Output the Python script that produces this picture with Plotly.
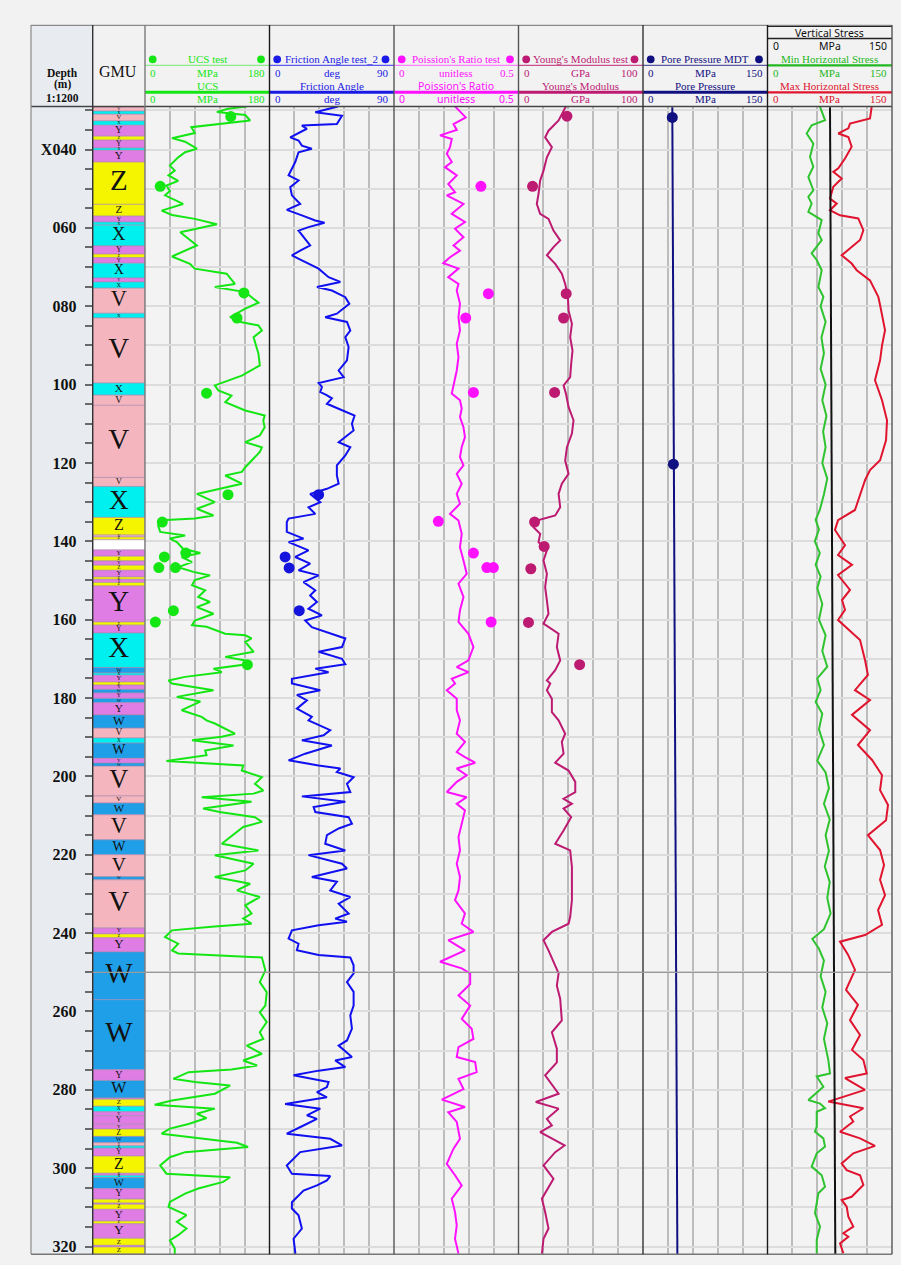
import plotly.graph_objects as go

# ---------------------------------------------------------------- data
# Geological unit column (top, base in m, unit code)
gmu_top = [29.15, 30.2, 31.0, 32.7, 33.8, 36.6, 37.6, 39.6, 40.2, 43.2, 54.0, 57.0, 58.5, 59.3, 64.6,
           66.7, 67.6, 69.0, 72.8, 73.8, 75.4, 81.8, 83.0, 99.6, 102.7, 105.3, 123.7, 126.0, 133.9, 138.4,
           138.9, 139.6, 142.2, 143.8, 145.0, 146.1, 147.4, 149.1, 149.7, 150.5, 151.4, 160.6, 161.4, 163.4, 172.2,
           173.6, 174.2, 175.9, 176.7, 177.8, 178.7, 180.1, 181.2, 184.3, 187.7, 190.2, 191.5, 195.4, 196.6, 197.4,
           205.0, 206.8, 209.8, 216.2, 220.0, 225.6, 226.4, 238.7, 240.2, 241.2, 244.8, 257.0, 274.9, 277.6, 282.1,
           282.4, 284.2, 285.6, 286.6, 288.8, 290.0, 291.9, 293.5, 294.3, 294.9, 296.9, 301.3, 301.8, 302.4, 305.2,
           307.9, 308.9, 309.2, 310.5, 313.5, 314.2, 317.9, 319.7, 320.1]
gmu_base = gmu_top[1:] + [321.9]
gmu_unit = ["V", "X", "V", "X", "Y", "Z", "Y", "X", "Y", "Z", "Z", "Y", "X", "X", "Y",
            "Z", "Y", "X", "Y", "X", "V", "X", "V", "X", "V", "V", "V", "X", "Z", "V",
            "Z", "", "Y", "Z", "Y", "Z", "Y", "Z", "Y", "Z", "Y", "Z", "Y", "X", "W",
            "X", "Y", "Z", "Y", "W", "Y", "W", "Y", "W", "V", "X", "W", "Y", "W", "V",
            "V", "W", "V", "W", "V", "W", "V", "Y", "Z", "Y", "W", "W", "Y", "W", "Y",
            "Z", "X", "Y", "Y", "Y", "Z", "W", "V", "X", "Y", "Z", "Y", "X", "W", "Y",
            "Z", "Y", "Z", "Y", "Z", "Y", "Z", "Y", "Z"]

# UCS log (MPa)
ucs_depth = [29.0, 29.6, 30.4, 31.2, 32.6, 34.3, 35.8, 37.1, 38.0, 39.8, 40.7, 42.0, 44.1, 45.4, 46.6,
             48.0, 49.2, 50.6, 51.7, 53.9, 55.6, 56.7, 57.7, 59.1, 61.1, 64.5, 67.3, 69.2, 70.4, 71.7,
             74.3, 75.1, 76.4, 79.1, 80.6, 82.8, 84.1, 84.9, 86.2, 87.9, 92.1, 95.1, 97.7, 100.2, 101.5,
             102.8, 104.5, 106.6, 107.9, 109.2, 110.9, 113.0, 114.7, 116.0, 117.2, 119.4, 121.1, 122.3, 123.2, 125.3,
             127.0, 127.9, 130.0, 131.7, 133.4, 134.2, 134.6, 136.0, 137.6, 138.5, 139.3, 140.2, 141.9, 143.0, 144.0,
             145.3, 146.6, 147.8, 148.7, 149.9, 151.2, 152.5, 154.2, 155.5, 156.8, 158.5, 160.2, 161.4, 161.8, 163.6,
             164.0, 164.8, 165.7, 168.2, 169.5, 170.4, 171.4, 172.5, 173.4, 174.6, 175.5, 176.3, 178.0, 179.7, 180.9,
             183.1, 184.8, 185.7, 186.5, 189.1, 189.9, 190.8, 192.1, 193.4, 194.6, 196.1, 197.2, 198.5, 200.2, 201.9,
             203.6, 204.4, 205.3, 206.5, 208.2, 209.1, 210.4, 211.6, 212.9, 215.5, 217.2, 218.9, 220.1, 222.3, 224.0,
             225.7, 227.4, 229.1, 230.8, 232.9, 235.0, 236.3, 237.6, 238.4, 239.3, 241.0, 242.7, 244.4, 245.2, 246.2,
             247.3, 249.5, 252.5, 255.1, 258.5, 260.2, 262.7, 265.3, 267.0, 268.7, 270.8, 272.5, 273.8, 274.8, 275.5,
             277.2, 278.0, 278.9, 281.0, 282.7, 283.8, 284.8, 286.1, 287.2, 288.7, 289.9, 291.2, 292.5, 293.5, 294.6,
             295.9, 297.2, 299.3, 301.4, 302.3, 303.5, 305.2, 306.5, 308.6, 309.9, 312.0, 313.7, 315.4, 317.1, 318.4,
             320.5, 322.0]
ucs_mpa = [147, 120, 104, 145, 152, 67, 72, 39, 58, 75, 58, 48, 36, 43, 34,
           48, 31, 36, 29, 55, 24, 39, 72, 104, 51, 75, 39, 65, 72, 118,
           130, 101, 145, 164, 145, 123, 140, 164, 169, 157, 164, 166, 140, 101, 106,
           125, 116, 145, 173, 171, 173, 166, 145, 169, 166, 154, 145, 140, 116, 140,
           96, 75, 101, 75, 99, 72, 24, 19, 22, 58, 36, 46, 55, 80, 53,
           68, 48, 70, 94, 72, 68, 87, 77, 94, 75, 99, 72, 68, 89, 116,
           145, 154, 145, 157, 116, 145, 147, 99, 111, 58, 34, 39, 99, 46, 80,
           53, 82, 89, 101, 130, 111, 68, 128, 87, 89, 31, 142, 140, 169, 159,
           171, 157, 82, 154, 84, 108, 159, 169, 142, 123, 111, 164, 101, 157, 145,
           101, 152, 133, 166, 145, 154, 142, 154, 96, 39, 29, 48, 39, 48, 169,
           171, 174, 166, 176, 174, 166, 176, 166, 171, 147, 169, 142, 162, 125, 63,
           41, 72, 123, 101, 39, 14, 101, 75, 89, 63, 36, 24, 87, 133, 149,
           58, 36, 22, 31, 123, 113, 77, 58, 36, 34, 60, 46, 60, 48, 36,
           43, 43]
ucs_test_depth = [31.6, 49.4, 76.6, 83.0, 102.2, 128.1, 135.1, 143.0, 144.0, 146.7, 146.7, 157.7, 160.6, 171.5]
ucs_test_mpa = [124, 22, 143, 133, 89, 120, 25, 59, 28, 20, 44, 41, 15, 148]

# Friction angle log (deg)
fa_depth = [29.0, 30.5, 31.4, 33.5, 33.9, 34.7, 36.9, 37.7, 39.0, 39.8, 40.7, 43.2, 46.6, 47.9, 49.6,
            51.7, 53.9, 55.4, 56.8, 58.1, 58.7, 59.8, 60.7, 62.4, 64.5, 65.8, 67.0, 68.3, 70.4, 72.6,
            73.8, 75.1, 76.0, 77.7, 79.4, 81.9, 82.8, 84.0, 86.2, 87.9, 90.4, 93.8, 96.4, 98.1, 99.6,
            100.6, 101.9, 102.6, 103.5, 104.9, 107.0, 107.9, 110.0, 111.7, 114.7, 116.0, 118.1, 120.6, 123.2, 125.3,
            126.6, 127.9, 130.0, 131.3, 133.0, 134.2, 135.1, 137.6, 139.3, 140.2, 142.3, 144.0, 145.7, 147.4, 148.7,
            150.4, 152.5, 153.8, 155.5, 157.2, 158.9, 160.2, 161.9, 163.6, 164.8, 167.0, 168.2, 170.0, 171.4, 172.5,
            173.4, 175.1, 176.3, 178.0, 179.2, 180.6, 182.7, 184.8, 185.7, 188.2, 189.5, 190.8, 192.1, 194.2, 195.9,
            197.2, 198.0, 198.9, 200.2, 201.9, 204.0, 205.1, 206.5, 207.8, 209.1, 210.4, 212.1, 213.3, 215.0, 217.2,
            218.9, 220.1, 222.3, 223.5, 225.7, 226.9, 229.1, 230.8, 232.5, 235.0, 236.3, 237.1, 238.0, 239.3, 241.4,
            242.7, 244.4, 245.6, 246.2, 248.2, 250.3, 252.5, 255.0, 258.5, 261.0, 264.4, 267.4, 268.7, 271.6, 272.5,
            274.2, 275.1, 276.3, 278.0, 279.3, 280.6, 281.9, 283.6, 284.8, 286.5, 287.4, 289.1, 291.2, 292.5, 294.2,
            295.9, 299.3, 301.4, 302.0, 303.1, 304.4, 305.7, 308.7, 310.3, 312.0, 315.4, 318.0, 321.4, 322.0]
fa_deg = [49.5, 33.1, 52.4, 48.7, 23.4, 27.0, 15.0, 21.0, 23.4, 30.6, 21.0, 18.6, 13.8, 21.0, 15.0,
          16.2, 22.2, 12.5, 23.4, 33.1, 39.8, 28.2, 21.0, 24.6, 29.4, 22.2, 16.2, 23.4, 35.5, 42.7,
          51.2, 34.3, 45.1, 54.8, 57.7, 48.7, 40.3, 56.0, 58.4, 54.8, 57.2, 56.0, 50.0, 53.6, 35.5,
          37.9, 36.7, 41.0, 45.1, 41.5, 54.8, 61.5, 59.6, 60.8, 50.0, 58.4, 54.8, 48.7, 48.7, 50.0,
          41.5, 29.4, 36.7, 28.2, 33.1, 13.8, 12.5, 12.5, 24.6, 13.8, 28.2, 18.6, 29.4, 21.0, 35.5,
          24.6, 33.1, 29.4, 34.3, 28.2, 37.9, 25.8, 30.6, 45.1, 54.8, 52.4, 35.5, 52.4, 54.8, 33.1,
          42.7, 16.2, 16.2, 36.7, 19.8, 27.0, 19.8, 30.6, 28.2, 43.9, 39.1, 23.4, 45.1, 25.8, 13.8,
          35.5, 51.2, 48.7, 60.8, 56.0, 58.4, 23.4, 54.8, 31.9, 33.1, 57.2, 59.6, 50.0, 41.5, 40.3,
          54.8, 28.2, 52.4, 56.0, 30.6, 48.7, 43.9, 58.4, 50.0, 57.2, 47.5, 56.0, 35.5, 16.2, 13.8,
          21.0, 19.8, 35.5, 58.4, 60.8, 60.8, 56.0, 60.8, 60.8, 58.4, 59.6, 56.0, 50.0, 59.6, 47.5,
          54.8, 35.5, 17.4, 42.7, 41.5, 34.3, 41.5, 11.3, 36.7, 27.0, 34.3, 24.6, 12.5, 43.9, 52.4,
          22.2, 12.5, 16.2, 43.9, 41.5, 34.3, 24.6, 16.2, 16.2, 21.0, 23.4, 17.4, 18.6, 18.6]
fa_test_depth = [128.1, 144.0, 146.8, 157.7]
fa_test_deg = [35.5, 11.3, 14.2, 21.5]

# Poisson's ratio log (unitless)
pr_depth = [29.0, 31.8, 33.5, 35.0, 36.4, 37.3, 39.4, 41.1, 43.2, 44.5, 46.6, 48.8, 50.9, 51.7, 53.9,
            56.4, 58.5, 60.2, 62.4, 64.5, 65.8, 67.5, 69.0, 70.4, 72.6, 74.3, 76.0, 79.4, 82.8, 86.2,
            89.6, 93.0, 96.4, 99.8, 102.3, 104.0, 106.1, 108.3, 110.9, 113.4, 115.9, 118.5, 120.6, 122.8, 125.3,
            127.9, 130.4, 133.0, 134.7, 138.1, 141.5, 144.9, 148.3, 150.8, 154.2, 157.6, 160.6, 163.6, 167.0, 170.4,
            172.1, 173.4, 175.1, 176.3, 178.0, 180.2, 183.1, 185.7, 189.1, 191.2, 193.8, 195.1, 196.5, 198.0, 199.7,
            201.4, 204.0, 205.3, 207.0, 208.7, 212.1, 215.5, 218.9, 222.3, 225.7, 229.1, 231.6, 235.0, 237.6, 239.7,
            241.8, 244.4, 247.3, 249.0, 250.3, 253.0, 255.9, 258.5, 261.9, 264.4, 267.0, 269.1, 271.6, 272.9, 275.5,
            277.2, 279.8, 282.5, 284.4, 285.7, 288.2, 292.5, 295.0, 298.9, 301.8, 304.4, 307.8, 311.2, 314.6, 318.0,
            321.8]
pr_val = [0.245, 0.288, 0.239, 0.252, 0.185, 0.232, 0.225, 0.212, 0.232, 0.205, 0.252, 0.218, 0.245, 0.212, 0.279,
          0.232, 0.285, 0.245, 0.279, 0.239, 0.265, 0.225, 0.198, 0.259, 0.218, 0.259, 0.252, 0.265, 0.259, 0.265,
          0.252, 0.259, 0.252, 0.239, 0.232, 0.265, 0.272, 0.265, 0.279, 0.285, 0.272, 0.265, 0.279, 0.252, 0.272,
          0.252, 0.265, 0.225, 0.259, 0.272, 0.265, 0.279, 0.292, 0.259, 0.279, 0.265, 0.259, 0.299, 0.319, 0.299,
          0.252, 0.299, 0.232, 0.245, 0.212, 0.252, 0.252, 0.265, 0.252, 0.285, 0.252, 0.285, 0.326, 0.252, 0.292,
          0.252, 0.212, 0.292, 0.252, 0.285, 0.272, 0.259, 0.265, 0.252, 0.265, 0.259, 0.245, 0.285, 0.272, 0.319,
          0.218, 0.285, 0.185, 0.272, 0.306, 0.306, 0.259, 0.306, 0.272, 0.312, 0.319, 0.259, 0.252, 0.326, 0.332,
          0.259, 0.279, 0.192, 0.285, 0.218, 0.252, 0.265, 0.239, 0.212, 0.245, 0.272, 0.232, 0.245, 0.252, 0.245,
          0.259]
pr_test_depth = [49.4, 76.8, 83.0, 102.0, 134.9, 143.0, 146.7, 146.7, 160.6]
pr_test_val = [0.349, 0.379, 0.288, 0.319, 0.178, 0.319, 0.373, 0.399, 0.390]

# Young's modulus log (GPa)
ym_depth = [29.0, 32.6, 35.2, 36.9, 39.4, 42.0, 45.4, 47.9, 51.3, 53.9, 56.4, 57.7, 60.7, 63.2, 64.9,
            67.0, 69.2, 71.7, 74.3, 77.7, 81.1, 84.5, 87.9, 91.3, 94.7, 98.1, 100.2, 102.3, 105.7, 109.1,
            112.5, 116.0, 119.4, 122.8, 125.3, 127.9, 131.3, 133.4, 134.7, 136.4, 138.1, 140.2, 142.3, 144.9, 148.3,
            151.7, 155.1, 158.5, 161.0, 163.6, 167.0, 170.4, 172.9, 175.5, 176.3, 178.0, 180.2, 183.6, 185.7, 189.1,
            191.2, 194.2, 196.5, 198.5, 201.4, 204.0, 205.7, 207.0, 208.2, 210.4, 213.8, 217.2, 218.9, 223.1, 227.4,
            231.6, 235.9, 237.6, 239.7, 241.8, 244.4, 247.3, 250.3, 253.4, 256.8, 262.3, 265.3, 269.5, 273.0, 276.3,
            281.0, 283.1, 284.8, 287.4, 289.1, 290.8, 294.2, 295.9, 299.3, 302.7, 307.8, 311.2, 315.4, 318.0, 321.8]
ym_gpa = [38.1, 32.2, 24.1, 21.4, 26.8, 22.8, 20.1, 17.4, 16.1, 14.7, 17.4, 24.1, 28.1, 33.5, 28.1,
          22.8, 29.5, 34.8, 37.5, 39.7, 40.2, 42.9, 41.5, 43.4, 42.3, 41.5, 36.2, 38.1, 40.2, 44.2,
          42.9, 38.9, 37.5, 40.2, 34.8, 32.2, 33.5, 29.5, 14.7, 12.1, 17.4, 16.1, 22.8, 20.1, 22.8,
          21.4, 22.8, 24.1, 20.1, 32.2, 30.8, 33.5, 29.5, 22.8, 25.5, 22.8, 26.8, 26.8, 32.2, 37.5,
          34.8, 36.2, 29.5, 40.2, 45.6, 45.6, 36.2, 42.9, 36.2, 42.3, 36.2, 29.5, 41.5, 42.9, 42.9,
          42.9, 41.5, 40.2, 26.8, 20.1, 24.1, 28.1, 32.2, 30.8, 33.5, 34.8, 26.8, 30.8, 30.8, 21.4,
          32.2, 13.9, 32.2, 22.8, 26.8, 17.4, 37.0, 29.5, 20.1, 28.1, 18.8, 21.4, 24.1, 20.1, 18.8]
ym_test_depth = [31.5, 49.4, 76.8, 83.0, 102.0, 135.1, 141.3, 147.0, 160.7, 171.5]
ym_test_gpa = [38.9, 11.3, 38.3, 36.2, 29.0, 12.9, 20.6, 9.9, 8.0, 49.1]

# Pore pressure (MPa)
pp_depth = [29.2, 120.3, 321.9]
pp_mpa = [35.3, 37.0, 41.4]
mdt_depth = [31.8, 120.3]
mdt_mpa = [35.3, 36.6]

# Stresses (MPa)
sv_depth = [29.2, 167.8, 321.9]
sv_mpa = [75.3, 78.3, 81.7]

shmin_depth = [29.1, 32.5, 33.8, 35.9, 38.5, 41.9, 44.4, 47.0, 50.4, 52.1, 53.8, 55.9, 58.0, 61.4, 63.1,
               66.5, 68.2, 70.8, 75.1, 77.6, 80.0, 84.0, 88.0, 92.0, 96.0, 100.0, 104.0, 108.0, 112.0, 116.0,
               120.0, 124.0, 128.0, 132.0, 134.5, 137.0, 140.0, 143.0, 146.0, 149.0, 152.0, 156.0, 160.0, 164.0, 168.0,
               172.0, 175.0, 178.0, 181.0, 184.0, 188.0, 192.0, 196.0, 199.0, 203.0, 207.0, 211.0, 215.0, 219.0, 223.0,
               227.0, 231.0, 235.0, 239.0, 241.5, 244.0, 247.0, 251.0, 255.0, 259.0, 263.0, 267.0, 272.4, 275.8, 276.6,
               279.2, 282.6, 283.5, 284.7, 285.6, 289.4, 290.7, 292.4, 294.5, 296.2, 299.6, 301.8, 304.7, 306.4, 309.0,
               311.5, 314.9, 318.3, 321.7]
shmin_mpa = [63.3, 69.3, 53.2, 47.2, 55.2, 51.2, 55.2, 49.2, 55.2, 49.2, 53.2, 49.2, 65.3, 61.3, 65.3,
             53.2, 59.3, 65.3, 61.3, 67.3, 64.0, 70.0, 65.0, 68.0, 64.0, 70.0, 66.0, 71.0, 67.0, 70.0,
             66.0, 72.0, 68.0, 63.0, 58.0, 62.0, 57.0, 63.0, 58.0, 64.0, 60.0, 66.0, 62.0, 70.0, 66.0,
             72.0, 60.0, 64.0, 58.0, 66.0, 62.0, 68.0, 60.0, 70.0, 74.0, 68.0, 75.0, 70.0, 74.0, 69.0,
             75.0, 72.0, 76.0, 68.0, 54.0, 62.0, 68.0, 64.0, 70.0, 66.0, 72.0, 68.0, 73.3, 75.3, 59.3,
             67.3, 49.2, 63.3, 69.3, 59.3, 59.3, 57.2, 67.3, 69.3, 59.3, 53.2, 65.3, 69.3, 61.3, 59.3,
             57.2, 63.3, 59.3, 59.3]

shmax_depth = [29.1, 32.1, 33.4, 34.6, 35.9, 36.8, 39.3, 42.3, 44.8, 45.7, 47.4, 49.5, 52.5, 53.8, 55.5,
               56.8, 57.6, 60.6, 63.1, 67.0, 69.1, 70.8, 73.4, 77.6, 79.7, 86.1, 90.0, 93.8, 98.9, 104.0,
               109.1, 114.2, 119.3, 121.8, 124.4, 129.5, 132.0, 134.6, 137.1, 141.0, 143.5, 146.0, 148.6, 152.4, 155.0,
               157.5, 160.1, 165.2, 170.3, 174.1, 178.0, 180.5, 184.3, 188.2, 192.0, 195.8, 199.7, 203.5, 207.3, 211.2,
               215.0, 218.8, 222.6, 226.4, 230.3, 234.1, 237.9, 240.5, 242.2, 245.5, 249.4, 254.5, 258.3, 262.2, 266.0,
               269.8, 272.4, 275.8, 277.0, 280.0, 283.0, 284.7, 286.8, 288.1, 290.7, 292.4, 294.3, 296.2, 298.8, 300.5,
               301.8, 304.3, 307.3, 308.1, 309.8, 312.4, 314.9, 316.6, 317.5, 319.2, 321.7]
shmax_mpa = [125.5, 123.5, 99.4, 97.4, 85.3, 97.4, 101.4, 93.4, 85.3, 79.3, 89.4, 79.3, 75.3, 83.4, 75.3,
             87.4, 109.4, 115.5, 111.5, 89.4, 101.4, 107.5, 123.5, 133.5, 135.6, 141.6, 138.0, 135.6, 129.5, 138.0,
             144.0, 142.8, 135.6, 123.5, 117.5, 109.0, 105.4, 85.0, 81.3, 93.4, 85.0, 101.8, 85.0, 99.4, 89.8,
             93.4, 85.0, 111.5, 117.5, 121.0, 105.4, 123.5, 101.8, 123.5, 109.0, 126.0, 138.0, 135.6, 145.2, 142.8,
             121.0, 135.6, 140.4, 135.6, 141.6, 133.2, 138.0, 117.5, 87.4, 97.0, 105.4, 94.6, 109.0, 99.4, 111.5,
             101.8, 115.5, 119.5, 93.4, 117.5, 73.3, 115.5, 99.4, 103.4, 87.4, 111.5, 129.5, 103.4, 89.4, 95.4,
             111.5, 115.5, 101.4, 89.4, 95.4, 97.4, 103.4, 91.4, 97.4, 87.4, 91.4]

# ---------------------------------------------------------------- layout helpers
W, H = 901, 1265
SERIF = "Liberation Serif"
SANS = "Noto Sans"


def fx(px):
    return px / W


def fy(py):
    return 1 - py / H


DEPTH_TOP, DEPTH_BASE = 29.15, 321.9
Y_DOMAIN = [fy(1254), fy(107)]
EDGES = [92.7, 145.0, 269.5, 394.0, 518.5, 643.0, 767.5, 892.0]

unit_colors = {"V": "#f5b5be", "W": "#1e9fe8", "X": "#00f0f0", "Y": "#e07de4", "Z": "#f5f500", "": "#ffffff"}

fig = go.Figure()

# ---- lithology column
centers = [(t + b) / 2 for t, b in zip(gmu_top, gmu_base)]
thick = [b - t for t, b in zip(gmu_top, gmu_base)]
px_per_m = (1254 - 107) / (DEPTH_BASE - DEPTH_TOP)
fig.add_trace(go.Bar(
    orientation="h", y=centers, x=[1] * len(centers), base=0, width=thick,
    marker=dict(color=[unit_colors[u] for u in gmu_unit], line=dict(color="#a88cb0", width=0.6)),
    xaxis="x", yaxis="y", hoverinfo="skip", showlegend=False))
labels = [u if t >= 0.5 else "" for u, t in zip(gmu_unit, thick)]
label_sizes = [min(29, max(4, 0.85 * t * px_per_m + 1)) for t in thick]
fig.add_trace(go.Scatter(
    x=[0.5] * len(centers), y=centers, mode="text", text=labels,
    textfont=dict(family=SERIF, size=label_sizes, color="#111111"),
    xaxis="x", yaxis="y", hoverinfo="skip", showlegend=False))


def curve(x, y, color, axis, width=2.0):
    fig.add_trace(go.Scatter(x=x, y=y, mode="lines", line=dict(color=color, width=width),
                             xaxis=axis[0], yaxis=axis[1], hoverinfo="skip", showlegend=False))


def points(x, y, color, axis, size=11):
    fig.add_trace(go.Scatter(x=x, y=y, mode="markers", marker=dict(color=color, size=size),
                             xaxis=axis[0], yaxis=axis[1], hoverinfo="skip", showlegend=False))


C_UCS, C_FA, C_PR, C_YM, C_PP = "#14e614", "#1010f0", "#ff10ff", "#bd1a72", "#101080"
C_SHMIN, C_SHMAX = "#2fc42f", "#e0142e"

curve(ucs_mpa, ucs_depth, C_UCS, ("x2", "y2"))
points(ucs_test_mpa, ucs_test_depth, C_UCS, ("x2", "y2"))
curve(fa_deg, fa_depth, C_FA, ("x3", "y3"))
points(fa_test_deg, fa_test_depth, "#1414dc", ("x3", "y3"))
curve(pr_val, pr_depth, C_PR, ("x4", "y4"))
points(pr_test_val, pr_test_depth, C_PR, ("x4", "y4"))
curve(ym_gpa, ym_depth, C_YM, ("x5", "y5"))
points(ym_test_gpa, ym_test_depth, C_YM, ("x5", "y5"))
curve(pp_mpa, pp_depth, C_PP, ("x6", "y6"))
points(mdt_mpa, mdt_depth, C_PP, ("x6", "y6"))
curve(shmin_mpa, shmin_depth, C_SHMIN, ("x7", "y7"))
curve(shmax_mpa, shmax_depth, C_SHMAX, ("x7", "y7"))
curve(sv_mpa, sv_depth, "#111111", ("x7", "y7"))

# ---- axes
depth_ticks = list(range(30, 325, 5))
depth_text = [("X040" if d == 40 else f"{d:03d}") if (d % 20 == 0 and d >= 40) else "" for d in depth_ticks]
layout_axes = {
    "xaxis": dict(domain=[fx(EDGES[0]), fx(EDGES[1])], range=[0, 1], visible=False, fixedrange=True),
    "yaxis": dict(domain=Y_DOMAIN, range=[DEPTH_BASE, DEPTH_TOP], anchor="x", side="left",
                  tickmode="array", tickvals=depth_ticks, ticktext=depth_text, ticks="outside",
                  ticklen=7, tickwidth=1.5, tickcolor="#6a6a6a", showgrid=False, zeroline=False,
                  showline=True, linecolor="#333333", linewidth=1.2, ticklabelstandoff=5,
                  tickfont=dict(family=SERIF, size=16, color="#111111", weight="bold")),
}
ranges = [(0, 180), (0, 90), (0, 0.5), (0, 100), (0, 150), (0, 150)]
for i, (lo, hi) in enumerate(ranges):
    n = i + 2
    step = (hi - lo) / 5
    layout_axes[f"xaxis{n}"] = dict(
        domain=[fx(EDGES[i + 1]), fx(EDGES[i + 2])], range=[lo, hi], anchor=f"y{n}",
        tickmode="array", tickvals=[lo + step * k for k in range(1, 5)], showticklabels=False,
        ticks="", showgrid=True, gridcolor="#bcbcbc", gridwidth=1.6, zeroline=False, showline=False)
    layout_axes[f"yaxis{n}"] = dict(
        domain=Y_DOMAIN, matches="y", anchor=f"x{n}", tickmode="array",
        tickvals=list(range(30, 330, 10)), showticklabels=False, ticks="", showgrid=True,
        gridcolor="#dcdcdc", gridwidth=1.6, zeroline=False, showline=False)

# ---- frame, header and decorations
shapes = []
ann = []


def hline(x0, x1, y, color, width):
    shapes.append(dict(type="line", xref="paper", yref="paper", x0=fx(x0), x1=fx(x1), y0=fy(y), y1=fy(y),
                       line=dict(color=color, width=width)))


def vline(x, y0, y1, color, width):
    shapes.append(dict(type="line", xref="paper", yref="paper", x0=fx(x), x1=fx(x), y0=fy(y0), y1=fy(y1),
                       line=dict(color=color, width=width)))


def txt(x, y, s, color, size=11, family=SERIF, xanchor="center", weight="normal"):
    ann.append(dict(x=fx(x), y=fy(y), xref="paper", yref="paper", text=s, showarrow=False,
                    xanchor=xanchor, yanchor="middle", borderpad=0,
                    font=dict(family=family, size=size, color=color, weight=weight)))


def dot(x, y, color, r=3.9):
    shapes.append(dict(type="circle", xref="paper", yref="paper", x0=fx(x - r), x1=fx(x + r),
                       y0=fy(y + r), y1=fy(y - r), fillcolor=color, line=dict(width=0)))


# depth column background
shapes.append(dict(type="rect", xref="paper", yref="paper", x0=fx(31), x1=fx(EDGES[0]), y0=fy(1254), y1=fy(25),
                   fillcolor="#e8ecf0", line=dict(width=0), layer="below"))

# header rows
Y_TEST, Y_L1, Y_S1, Y_NAME, Y_L2, Y_S2 = 59.3, 65.3, 72.7, 86.0, 92.3, 99.3
tracks = [
    ("UCS test", "UCS", "MPa", "180", C_UCS, "#8cec8c", SERIF),
    ("Friction Angle test_2", "Friction Angle", "deg", "90", "#1a1ae6", "#5a5af0", SERIF),
    ("Poission's Ratio test", "Poission's Ratio", "unitless", "0.5", "#ff10ff", "#ff80ff", SANS),
    ("Young's Modulus test", "Young's Modulus", "GPa", "100", C_YM, "#c8508f", SERIF),
    ("Pore Pressure MDT", "Pore Pressure", "MPa", "150", "#101080", "#5a5aa0", SERIF),
]
for i, (tname, cname, unit, top, color, light, fam2) in enumerate(tracks):
    left, right = EDGES[i + 1], EDGES[i + 2]
    mid = (left + right) / 2
    dot(left + 7.7, Y_TEST, color)
    dot(right - 8.5, Y_TEST, color)
    txt(mid, Y_TEST, tname, color)
    hline(left, right, Y_L1, light, 1.2)
    txt(left + 8, Y_S1, "0", color)
    txt(mid, Y_S1, unit, color)
    txt(right - 4, Y_S1, top, color, xanchor="right")
    size2 = 10.5 if fam2 == SANS else 11
    txt(mid, Y_NAME, cname, color, size=size2, family=fam2)
    hline(left, right, Y_L2, color, 3)
    txt(left + 8, Y_S2, "0", color, size=size2, family=fam2)
    txt(mid, Y_S2, unit, color, size=size2, family=fam2)
    txt(right - 4, Y_S2, top, color, size=size2, family=fam2, xanchor="right")

# stress header
sl, sr = EDGES[6], EDGES[7]
sm = (sl + sr) / 2
hline(sl, sr, 26.5, "#222222", 1.2)
txt(sm, 32.7, "Vertical Stress", "#111111", size=10.5, family=SANS)
hline(sl, sr, 38.5, "#222222", 1.5)
txt(sl + 8, 46, "0", "#111111", size=10.5, family=SANS)
txt(sm, 46, "MPa", "#111111", size=10.5, family=SANS)
txt(sr - 4, 46, "150", "#111111", size=10.5, family=SANS, xanchor="right")
for (name, color, ln, ys, yl) in [("Min Horizontal Stress", "#22b822", 2.2, Y_TEST, Y_L1),
                                  ("Max Horizontal Stress", "#e0142e", 2.2, Y_NAME, Y_L2)]:
    txt(sm, ys, name, color)
    hline(sl, sr, yl, color, ln)
    yscale = Y_S1 if yl == Y_L1 else Y_S2
    txt(sl + 8, yscale, "0", color)
    txt(sm, yscale, "MPa", color)
    txt(sr - 4, yscale, "150", color, xanchor="right")

# depth / GMU header text
txt(62.5, 73.3, "Depth", "#111111", size=11.5, weight="bold")
txt(62.5, 84.0, "(m)", "#111111", size=11.5, weight="bold")
txt(62.5, 97.5, "1:1200", "#111111", size=11.5, weight="bold")
txt(118.5, 71.7, "GMU", "#111111", size=16)

# frame lines
hline(31, EDGES[7], 25.3, "#8a8a8a", 1.2)
hline(31, EDGES[7], 106.5, "#444444", 1.4)
hline(31, EDGES[7], 1254.3, "#777777", 1.4)
vline(31, 25, 1254, "#8a8a8a", 1.2)
edge_colors = ["#333333", "#7a7a7a", "#1a1a1a", "#555555", "#555555", "#333333", "#1a1a1a", "#555555"]
for x, c in zip(EDGES, edge_colors):
    vline(x, 25, 1254.3, c, 1.4)

# marker line at 250 m
shapes.append(dict(type="line", xref="paper", yref="y", x0=fx(EDGES[0]), x1=fx(EDGES[7]), y0=250, y1=250,
                   line=dict(color="#9a9a9a", width=1.2)))

fig.update_layout(
    width=W, height=H, margin=dict(l=0, r=0, t=0, b=0),
    paper_bgcolor="#f2f2f2", plot_bgcolor="#f3f3f3",
    showlegend=False, shapes=shapes, annotations=ann, barmode="overlay",
    **layout_axes)

fig.write_html("out.html")
